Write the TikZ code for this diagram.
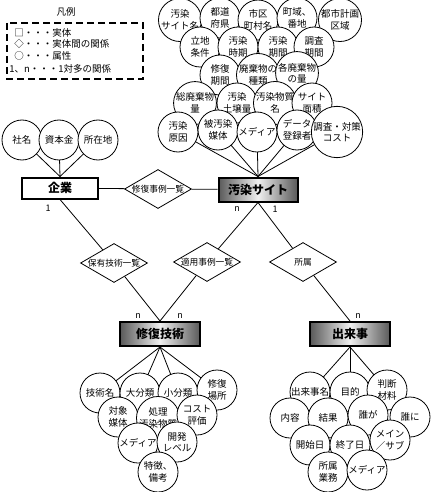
\documentclass[tikz,border=0pt]{standalone}
\usepackage{fontspec}
\setmainfont{Noto Sans CJK JP}
\usepackage{tikz}
\usetikzlibrary{shapes,positioning}
\pgfdeclarelayer{back}
\pgfsetlayers{back,main}

\tikzset{
  entity/.style={draw,line width=2pt,minimum width=80pt,minimum height=24pt,inner sep=0pt,font=\fontsize{12}{14}\selectfont\bfseries},
  shadedentity/.style={entity,left color=black!65,right color=black!65,middle color=black!6},
  relation/.style={draw,diamond,aspect=1.7,inner sep=0pt,minimum width=67pt,minimum height=39pt,fill=white,font=\fontsize{8.7}{10}\selectfont},
  attr/.style={draw,circle,fill=white,inner sep=0pt,minimum size=40pt,align=center,font=\fontsize{9.5}{11.5}\selectfont},
  card/.style={inner sep=0pt,font=\fontsize{9}{10}\selectfont},
  legend/.style={anchor=west,inner sep=0pt,font=\fontsize{9.5}{11}\selectfont},
  link/.style={line width=0.8pt}
}

\begin{document}
\begin{tikzpicture}[x=1pt,y=-1pt,line width=0.8pt]
  \useasboundingbox (0,0) rectangle (433,492);

  % Legend
  \node[legend,anchor=center] (legtitle) at (66,12) {凡例};
  \draw[line width=1.6pt,dash pattern=on 7pt off 4pt] (7,23) rectangle (143,79);
  \node[legend] (leg1) at (14,33) {□・・・実体};
  \node[legend] (leg2) at (14,44) {◇・・・実体間の関係};
  \node[legend] (leg3) at (14,56) {○・・・属性};
  \node[legend] (leg4) at (9,69) {1、n・・・1対多の関係};

  % Entities
  \node[entity,fill=white,minimum width=76pt,minimum height=21pt] (company) at (60,188) {企業};
  \node[shadedentity,minimum width=79pt] (site) at (258,189.5) {汚染サイト};
  \node[shadedentity] (tech) at (160,334) {修復技術};
  \node[shadedentity] (event) at (350,334) {出来事};

  % Relations
  \node[relation] (caselist) at (158,189) {修復事例一覧};
  \node[relation] (ownlist) at (114,263) {保有技術一覧};
  \node[relation] (applylist) at (207,262) {適用事例一覧};
  \node[relation] (belong) at (303,262) {所属};

  % Company attributes
  \node[attr] (c1) at (22,140) {社名};
  \node[attr] (c2) at (59,140) {資本金};
  \node[attr] (c3) at (98,140) {所在地};

  % Site attributes
  \node[attr] (s1) at (180,20) {汚染\\サイト名};
  \node[attr] (s2) at (220,18) {都道\\府県};
  \node[attr] (s3) at (258,20) {市区\\町村名};
  \node[attr] (s4) at (297,18) {町域、\\番地};
  \node[attr] (s5) at (340,20) {都市計画\\区域};
  \node[attr] (s6) at (200,47) {立地\\条件};
  \node[attr] (s7) at (238,47) {汚染\\時期};
  \node[attr] (s8) at (278,47) {汚染\\期間};
  \node[attr] (s9) at (314,47) {調査\\期間};
  \node[attr] (s10) at (220,75) {修復\\期間};
  \node[attr] (s11) at (258,75) {廃棄物の\\種類};
  \node[attr] (s12) at (297,73) {各廃棄物\\の量};
  \node[attr] (s13) at (195,103) {総廃棄物\\量};
  \node[attr] (s14) at (237,103) {汚染\\土壌量};
  \node[attr] (s15) at (275,103) {汚染物質\\名};
  \node[attr] (s16) at (312,103) {サイト\\面積};
  \node[attr] (s17) at (178,132) {汚染\\原因};
  \node[attr] (s18) at (218,130) {被汚染\\媒体};
  \node[attr] (s19) at (257,132) {メディア};
  \node[attr] (s20) at (297,130) {データ\\登録者};
  \node[attr] (s21) at (337,132) {調査・対策\\コスト};

  % Technique attributes
  \node[attr] (t1) at (100,393) {技術名};
  \node[attr] (t2) at (140,393) {大分類};
  \node[attr] (t3) at (178,393) {小分類};
  \node[attr] (t4) at (217,390) {修復\\場所};
  \node[attr] (t5) at (118,417) {対象\\媒体};
  \node[attr] (t6) at (158,418) {処理\\汚染物質};
  \node[attr] (t7) at (197,415) {コスト\\評価};
  \node[attr] (t8) at (138,443) {メディア};
  \node[attr] (t9) at (177,442) {開発\\レベル};
  \node[attr] (t10) at (158,472) {特徴、\\備考};

  % Event attributes
  \node[attr] (e1) at (310,392) {出来事名};
  \node[attr] (e2) at (350,392) {目的};
  \node[attr] (e3) at (387,390) {判断\\材料};
  \node[attr] (e4) at (290,418) {内容};
  \node[attr] (e5) at (328,418) {結果};
  \node[attr] (e6) at (368,415) {誰が};
  \node[attr] (e7) at (410,417) {誰に};
  \node[attr] (e8) at (310,445) {開始日};
  \node[attr] (e9) at (350,445) {終了日};
  \node[attr] (e10) at (390,440) {メイン\\／サブ};
  \node[attr] (e11) at (328,472) {所属\\業務};
  \node[attr] (e12) at (367,470) {メディア};

  % Attribute links (behind circles)
  \begin{pgfonlayer}{back}
    \foreach \i in {1,...,3} \draw[link] (company.north) -- (c\i.center);
    \foreach \i in {17,...,21} \draw[link] (site.north) -- (s\i.center);
    \foreach \a/\b in {s13/s17,s14/s18,s15/s19,s16/s20,s10/s14,s11/s15,s12/s16,
                       s6/s10,s7/s10,s8/s11,s9/s12,s1/s6,s2/s6,s3/s7,s4/s8,s5/s9}
      \draw[link] (\a.center) -- (\b.center);
    \foreach \i in {1,...,4} \draw[link] (tech.south) -- (t\i.center);
    \foreach \a/\b in {t5/t2,t6/t2,t7/t3,t8/t5,t9/t6,t10/t8}
      \draw[link] (\a.center) -- (\b.center);
    \foreach \i in {1,...,3} \draw[link] (event.south) -- (e\i.center);
    \foreach \a/\b in {e4/e1,e5/e1,e6/e2,e7/e3,e8/e5,e9/e5,e10/e6,e11/e8,e12/e9}
      \draw[link] (\a.center) -- (\b.center);
  \end{pgfonlayer}

  % Relation links
  \draw[link] (company) -- (caselist);
  \draw[link] (caselist) -- (site);
  \draw[link] (company.south) -- (ownlist);
  \draw[link] (ownlist) -- (tech.north);
  \draw[link] (site.south) -- (applylist);
  \draw[link] (applylist) -- (tech.north);
  \draw[link] (site.south) -- (belong);
  \draw[link] (belong) -- (event.north);

  % Cardinalities
  \node[card] (k1) at (48,208) {1};
  \node[card] (k2) at (237,209) {n};
  \node[card] (k3) at (275,209) {1};
  \node[card] (k4) at (138,316) {n};
  \node[card] (k5) at (180,316) {n};
  \node[card] (k6) at (358,316) {n};
\end{tikzpicture}
\end{document}
